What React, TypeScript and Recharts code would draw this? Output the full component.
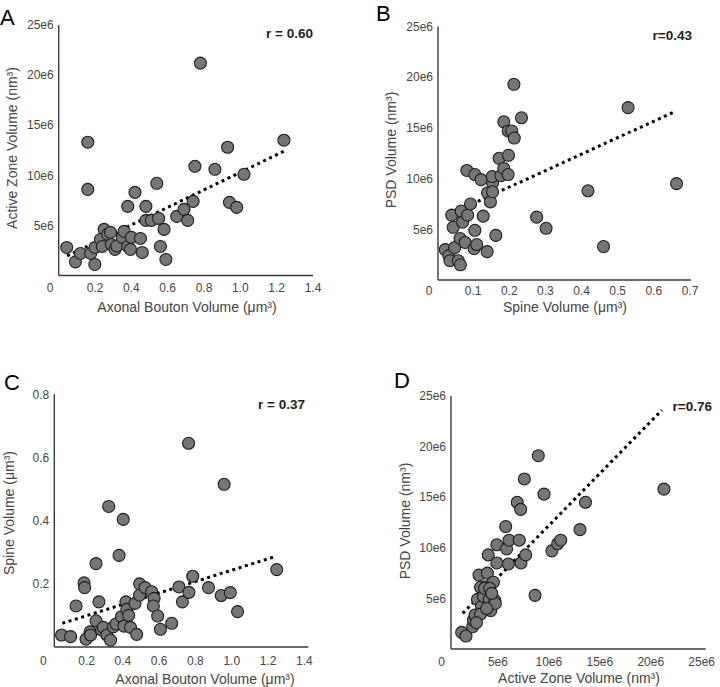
import React from 'react';
import { ScatterChart, Scatter, XAxis, YAxis, ReferenceLine, Customized } from 'recharts';

// ---------- DATA ----------
// Panel A: Axonal bouton volume (µm³) vs Active zone volume (×1e6 nm³)
const aBouton = [0.044,0.092,0.12,0.16,0.16,0.176,0.199,0.2,0.25,0.23,0.24,0.27,0.285,0.29,0.31,0.32,0.35,0.36,0.38,0.38,0.395,0.40,0.42,0.45,0.46,0.48,0.48,0.51,0.54,0.55,0.56,0.58,0.59,0.65,0.69,0.71,0.74,0.75,0.78,0.86,0.93,0.94,0.98,1.02,1.24];
const aActiveZone = [2.8,1.36,2.2,13.3,8.6,2.2,1.1,2.8,4.6,3.6,2.9,4.1,4.3,3.1,2.6,2.95,3.8,4.4,2.9,6.9,2.6,3.8,8.3,3.7,2.3,6.9,5.5,5.5,9.2,5.7,2.9,4.6,1.6,5.9,6.6,5.5,7.4,10.9,21.2,10.6,12.8,7.3,6.8,10.1,13.5];
const aTrendX = [0.046, 1.24];
const aTrendY = [1.95, 12.4];

// Panel B: Spine volume (µm³) vs PSD volume (×1e6 nm³)
const bSpine = [0.02,0.03,0.033,0.038,0.042,0.046,0.056,0.062,0.061,0.064,0.068,0.075,0.082,0.08,0.09,0.102,0.102,0.10,0.107,0.119,0.125,0.136,0.137,0.145,0.151,0.15,0.151,0.16,0.169,0.174,0.182,0.182,0.194,0.195,0.194,0.204,0.211,0.21,0.231,0.273,0.299,0.415,0.458,0.526,0.66];
const bPsd = [3.0,2.4,1.9,6.4,5.2,3.2,1.9,1.5,4.1,6.8,5.7,3.7,6.4,10.8,7.5,10.4,4.9,3.1,3.5,9.9,6.3,2.8,8.6,7.7,9.6,10.2,8.7,4.4,12.0,10.3,15.6,11.0,10.4,12.3,14.7,14.7,14.0,19.3,16.0,6.2,5.1,8.8,3.3,17.0,9.5];
const bTrendX = [0.027, 0.655];
const bTrendY = [6.4, 16.6];

// Panel C: Axonal bouton volume (µm³) vs Spine volume (µm³)
const cBouton = [0.04,0.09,0.12,0.164,0.167,0.175,0.197,0.2,0.23,0.23,0.246,0.26,0.27,0.29,0.30,0.31,0.325,0.34,0.357,0.37,0.38,0.384,0.395,0.40,0.41,0.42,0.445,0.454,0.47,0.47,0.50,0.537,0.55,0.546,0.57,0.585,0.647,0.687,0.706,0.74,0.742,0.763,0.85,0.92,0.936,0.97,1.01,1.226];
const cSpine = [0.038,0.033,0.13,0.203,0.188,0.025,0.048,0.038,0.264,0.083,0.143,0.054,0.062,0.038,0.445,0.022,0.064,0.073,0.29,0.096,0.404,0.066,0.143,0.119,0.10,0.062,0.138,0.04,0.20,0.164,0.188,0.175,0.154,0.13,0.098,0.056,0.075,0.19,0.143,0.645,0.173,0.224,0.188,0.163,0.515,0.172,0.112,0.245];
const cTrendX = [0.044, 1.21];
const cTrendY = [0.075, 0.285];

// Panel D: Active zone volume (×1e6 nm³) vs PSD volume (×1e6 nm³)
const dActiveZone = [1.05,1.47,2.13,2.2,2.36,2.75,2.6,2.9,3.0,2.9,3.2,3.4,3.57,3.66,3.76,3.9,4.16,4.3,4.35,4.5,4.5,5.37,5.46,5.63,5.7,6.5,6.84,6.7,6.87,7.2,7.33,8.25,8.57,9.13,9.9,10.47,10.77,12.66,13.2,20.9,3.3,3.5,3.8,4.0,2.5];
const dPsd = [1.64,1.28,2.2,2.86,3.36,7.3,4.9,6.1,4.2,3.45,5.2,6.15,7.5,9.3,4.9,3.8,6.6,4.8,4.5,10.3,8.5,12.1,9.9,8.4,10.75,14.5,13.8,10.75,8.5,16.8,9.3,5.3,19.1,15.3,9.7,10.4,10.75,11.8,14.5,15.8,6.0,4.0,6.0,5.5,2.6];
const dTrendX = [1.15, 20.7];
const dTrendY = [3.52, 23.6];

// Tick values
const volTicksX = [0, 0.2, 0.4, 0.6, 0.8, 1.0, 1.2, 1.4];
const volTickLabelsX = ['0', '0.2', '0.4', '0.6', '0.8', '1.0', '1.2', '1.4'];
const spineTicksX = [0, 0.1, 0.2, 0.3, 0.4, 0.5, 0.6, 0.7];
const spineTickLabelsX = ['0', '0.1', '0.2', '0.3', '0.4', '0.5', '0.6', '0.7'];
const e6Ticks = [0, 5, 10, 15, 20, 25];
const e6TickLabels = ['0', '5e6', '10e6', '15e6', '20e6', '25e6'];
const spineTicksY = [0, 0.2, 0.4, 0.6, 0.8];
const spineTickLabelsY = ['', '0.2', '0.4', '0.6', '0.8'];

// ---------- STYLE ----------
const FONT = '"Liberation Sans", Arial, Helvetica, sans-serif';
const TEXT_GRAY = '#444';
const AXIS_COLOR = '#3a3a3a';
const DOT_FILL = '#767676';
const DOT_STROKE = '#1e1e1e';

const zip = (xs: number[], ys: number[]) => xs.map((x, i) => ({ x, y: ys[i] }));

type PanelProps = {
  box: { left: number; top: number; w: number; h: number };
  plot: { x0: number; x1: number; y0: number; y1: number };
  data: { x: number; y: number }[];
  trend: { x: number; y: number }[];
  xDomain: [number, number];
  yDomain: [number, number];
  xTicks: number[];
  xTickLabels: string[];
  yTicks: number[];
  yTickLabels: string[];
  xDx: number;
  zeroDx: number;
  xDy: number;
  letter: string;
  letterPos: [number, number];
  rText: string;
  rPos: [number, number];
  xTitle: string;
  xTitlePos: [number, number];
  yTitle: string;
  yTitlePos: [number, number];
};

const YW = 40;
const XH = 30;

function Panel(p: PanelProps) {
  const { box, plot } = p;
  const margin = {
    left: plot.x0 - box.left - YW,
    right: box.left + box.w - plot.x1,
    top: plot.y0 - box.top,
    bottom: box.top + box.h - plot.y1 - XH,
  };
  const XTick = (props: any) => {
    const { x, y, payload } = props;
    const idx = p.xTicks.indexOf(payload.value);
    const label = idx >= 0 ? p.xTickLabels[idx] : String(payload.value);
    const dx = payload.value === 0 ? p.zeroDx : p.xDx;
    return (
      <text x={x + dx} y={y + p.xDy} dy="0.71em" textAnchor="middle" fontFamily={FONT} fontSize={12} fill={TEXT_GRAY}>
        {label}
      </text>
    );
  };
  const YTick = (props: any) => {
    const { x, y, payload } = props;
    const idx = p.yTicks.indexOf(payload.value);
    const label = idx >= 0 ? p.yTickLabels[idx] : String(payload.value);
    if (payload.value === 0) return <g />;
    return (
      <text x={x} y={y} dy="0.355em" textAnchor="end" fontFamily={FONT} fontSize={12} fill={TEXT_GRAY}>
        {label}
      </text>
    );
  };
  const rel = (pt: [number, number]): [number, number] => [pt[0] - box.left, pt[1] - box.top];
  const lp = rel(p.letterPos);
  const rp = rel(p.rPos);
  const xt = rel(p.xTitlePos);
  const yt = rel(p.yTitlePos);
  const Texts = () => (
    <g>
      <text x={lp[0]} y={lp[1]} fontFamily={FONT} fontSize={22} fill="#000">{p.letter}</text>
      <text x={rp[0]} y={rp[1]} textAnchor="end" fontFamily={FONT} fontSize={13.5} fontWeight="bold" fill="#222">{p.rText}</text>
      <text x={xt[0]} y={xt[1]} dy="0.36em" textAnchor="middle" fontFamily={FONT} fontSize={14} fill={TEXT_GRAY}>{p.xTitle}</text>
      <text x={yt[0]} y={yt[1]} dy="0.36em" textAnchor="middle" fontFamily={FONT} fontSize={14} fill={TEXT_GRAY}
        transform={`rotate(-90 ${yt[0]} ${yt[1]})`}>{p.yTitle}</text>
    </g>
  );
  return (
    <div style={{ position: 'absolute', left: box.left, top: box.top, width: box.w, height: box.h }}>
      <ScatterChart width={box.w} height={box.h} margin={margin}>
        <XAxis
          type="number"
          dataKey="x"
          domain={p.xDomain}
          ticks={p.xTicks}
          interval={0}
          allowDataOverflow
          tickLine={false}
          tickSize={6}
          tickMargin={2}
          height={XH}
          axisLine={{ stroke: AXIS_COLOR, strokeWidth: 1.4 }}
          tick={XTick}
        />
        <YAxis
          type="number"
          dataKey="y"
          domain={p.yDomain}
          ticks={p.yTicks}
          interval={0}
          allowDataOverflow
          tickLine={false}
          tickSize={3}
          tickMargin={2}
          width={YW}
          axisLine={{ stroke: AXIS_COLOR, strokeWidth: 1.4 }}
          tick={YTick}
        />
        <Scatter
          data={p.data}
          isAnimationActive={false}
          shape={(s: any) => (
            <circle cx={s.cx} cy={s.cy} r={6} fill={DOT_FILL} stroke={DOT_STROKE} strokeWidth={1.1} />
          )}
        />
        <ReferenceLine
          segment={p.trend}
          stroke="#000"
          strokeWidth={3}
          strokeDasharray="3 3.6"
          ifOverflow="visible"
        />
        <Customized component={Texts} />
      </ScatterChart>
    </div>
  );
}

export default function App() {
  return (
    <div style={{ position: 'absolute', left: 0, top: 0, width: 720, height: 687, background: '#fff', overflow: 'hidden' }}>
      <Panel
        box={{ left: 0, top: 0, w: 360, h: 340 }}
        plot={{ x0: 58.7, x1: 313, y0: 25, y1: 275.5 }}
        data={zip(aBouton, aActiveZone)}
        trend={zip(aTrendX, aTrendY)}
        xDomain={[0, 1.4]}
        yDomain={[0, 25]}
        xTicks={volTicksX}
        xTickLabels={volTickLabelsX}
        yTicks={e6Ticks}
        yTickLabels={e6TickLabels}
        xDx={0}
        zeroDx={-8.7}
        xDy={0}
        letter="A"
        letterPos={[0, 25]}
        rText="r = 0.60"
        rPos={[313, 37.5]}
        xTitle="Axonal Bouton Volume (μm³)"
        xTitlePos={[187, 307]}
        yTitle="Active Zone Volume (nm³)"
        yTitlePos={[12, 148]}
      />
      <Panel
        box={{ left: 360, top: 0, w: 360, h: 340 }}
        plot={{ x0: 438, x1: 691, y0: 26.5, y1: 280 }}
        data={zip(bSpine, bPsd)}
        trend={zip(bTrendX, bTrendY)}
        xDomain={[0, 0.7]}
        yDomain={[0, 25]}
        xTicks={spineTicksX}
        xTickLabels={spineTickLabelsX}
        yTicks={e6Ticks}
        yTickLabels={e6TickLabels}
        xDx={-1}
        zeroDx={-9}
        xDy={-1.5}
        letter="B"
        letterPos={[376, 20.5]}
        rText="r=0.43"
        rPos={[692, 40]}
        xTitle="Spine Volume (μm³)"
        xTitlePos={[565, 307]}
        yTitle="PSD Volume (nm³)"
        yTitlePos={[391, 150]}
      />
      <Panel
        box={{ left: 0, top: 340, w: 360, h: 347 }}
        plot={{ x0: 54.3, x1: 308.3, y0: 394.3, y1: 647 }}
        data={zip(cBouton, cSpine)}
        trend={zip(cTrendX, cTrendY)}
        xDomain={[0, 1.4]}
        yDomain={[0, 0.8]}
        xTicks={volTicksX}
        xTickLabels={volTickLabelsX}
        yTicks={spineTicksY}
        yTickLabels={spineTickLabelsY}
        xDx={-4}
        zeroDx={-11}
        xDy={1.5}
        letter="C"
        letterPos={[4, 390]}
        rText="r = 0.37"
        rPos={[305, 409]}
        xTitle="Axonal Bouton Volume (μm³)"
        xTitlePos={[205, 679]}
        yTitle="Spine Volume (μm³)"
        yTitlePos={[9, 513]}
      />
      <Panel
        box={{ left: 360, top: 340, w: 360, h: 347 }}
        plot={{ x0: 451, x1: 705.7, y0: 396, y1: 649 }}
        data={zip(dActiveZone, dPsd)}
        trend={zip(dTrendX, dTrendY)}
        xDomain={[0, 25]}
        yDomain={[0, 25]}
        xTicks={e6Ticks}
        xTickLabels={e6TickLabels}
        yTicks={e6Ticks}
        yTickLabels={e6TickLabels}
        xDx={-4}
        zeroDx={-9.3}
        xDy={0.5}
        letter="D"
        letterPos={[394, 388]}
        rText="r=0.76"
        rPos={[712, 410.5]}
        xTitle="Active Zone Volume (nm³)"
        xTitlePos={[579, 678]}
        yTitle="PSD Volume (nm³)"
        yTitlePos={[405, 521]}
      />
    </div>
  );
}
